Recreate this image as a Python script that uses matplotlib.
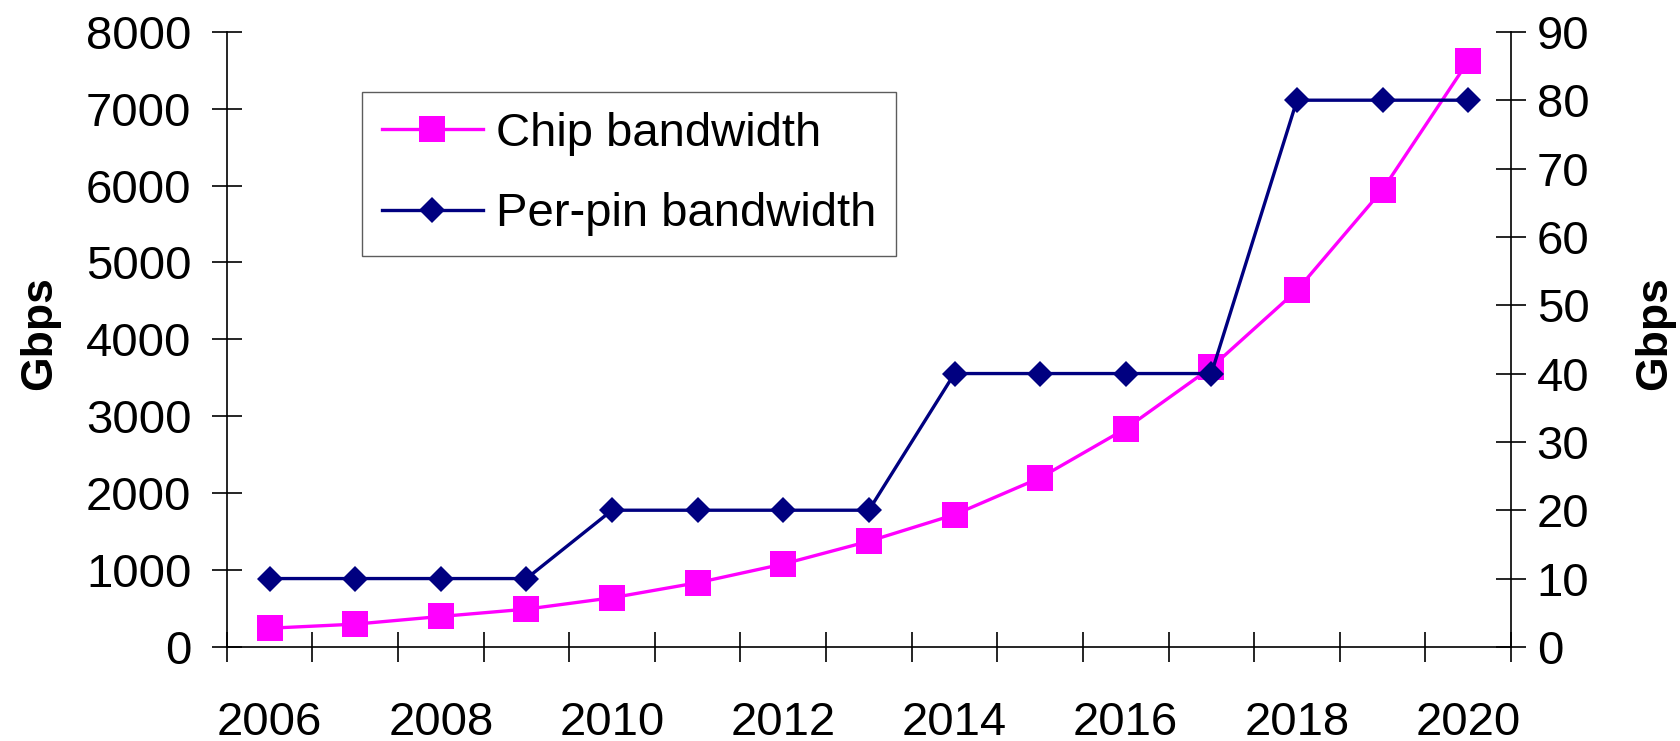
import matplotlib
matplotlib.use("Agg")
import matplotlib.pyplot as plt
from matplotlib.lines import Line2D

years = [2006, 2007, 2008, 2009, 2010, 2011, 2012, 2013, 2014, 2015, 2016, 2017, 2018, 2019, 2020]
chip_bw = [243, 296, 396, 491, 639, 835, 1078, 1374, 1720, 2199, 2839, 3636, 4639, 5947, 7618]
pin_bw = [10, 10, 10, 10, 20, 20, 20, 20, 40, 40, 40, 40, 80, 80, 80]
left_ticks = [0, 1000, 2000, 3000, 4000, 5000, 6000, 7000, 8000]
right_ticks = [0, 10, 20, 30, 40, 50, 60, 70, 80, 90]
label_years = [2006, 2008, 2010, 2012, 2014, 2016, 2018, 2020]

plt.rcParams['font.family'] = ['Liberation Sans', 'DejaVu Sans']

fig = plt.figure(figsize=(16.8, 7.41), dpi=100)
ax = fig.add_axes([0.135, 0.127, 0.7644, 0.830])
ax2 = ax.twinx()

xs = list(range(len(years)))
FS = 34
LFS = 34

ax.plot(xs, chip_bw, color='#FF00FF', lw=2.4, marker='s', markersize=19,
        markeredgewidth=0, zorder=3)
ax2.plot(xs, pin_bw, color='#000080', lw=2.4, marker='D', markersize=13,
         markeredgewidth=0, zorder=4)

ax.set_xlim(-0.5, len(years) - 0.5)
ax.set_ylim(0, 8000)
ax2.set_ylim(0, 90)

ax.set_yticks(left_ticks)
ax.set_yticklabels([str(v) for v in left_ticks], fontsize=FS)
ax2.set_yticks(right_ticks)
ax2.set_yticklabels([str(v) for v in right_ticks], fontsize=FS)

# category boundary ticks
ax.set_xticks([i - 0.5 for i in range(len(years) + 1)])
ax.set_xticklabels([])
ax.set_xticks([years.index(y) for y in label_years], minor=True)
ax.set_xticklabels([str(y) for y in label_years], minor=True, fontsize=FS)
ax.tick_params(axis='x', which='minor', length=0, pad=39)
ax.tick_params(axis='x', which='major', direction='inout', length=21, width=1.2)
ax.tick_params(axis='y', direction='inout', length=21, width=1.2, pad=15)
ax2.tick_params(axis='y', direction='inout', length=21, width=1.2, pad=8)

for a in (ax, ax2):
    a.spines['top'].set_visible(False)
    for s in ('left', 'right', 'bottom'):
        a.spines[s].set_linewidth(1.2)
ax.spines['right'].set_visible(False)
ax2.spines['left'].set_visible(False)
ax2.spines['bottom'].set_visible(False)

fig.text(0.0235, 0.5506, 'Gbps', rotation=90, fontsize=32, fontweight='bold',
         ha='center', va='center')
fig.text(0.985, 0.5506, 'Gbps', rotation=90, fontsize=32, fontweight='bold',
         ha='center', va='center')

h1 = Line2D([], [], color='#FF00FF', lw=2.4, marker='s', markersize=19, markeredgewidth=0)
h2 = Line2D([], [], color='#000080', lw=2.4, marker='D', markersize=13, markeredgewidth=0)
leg = fig.legend([h1, h2], ['Chip bandwidth', 'Per-pin bandwidth'],
                 loc='upper left', bbox_to_anchor=(362 / 1680, 1 - 92 / 741),
                 fontsize=LFS, frameon=True, fancybox=False, shadow=False,
                 handlelength=2.14, handletextpad=0.28, labelspacing=0.77,
                 borderpad=0.42, borderaxespad=0)
leg.get_frame().set_edgecolor('#333333')
leg.get_frame().set_linewidth(1.0)

fig.savefig('out.png', dpi=100)
